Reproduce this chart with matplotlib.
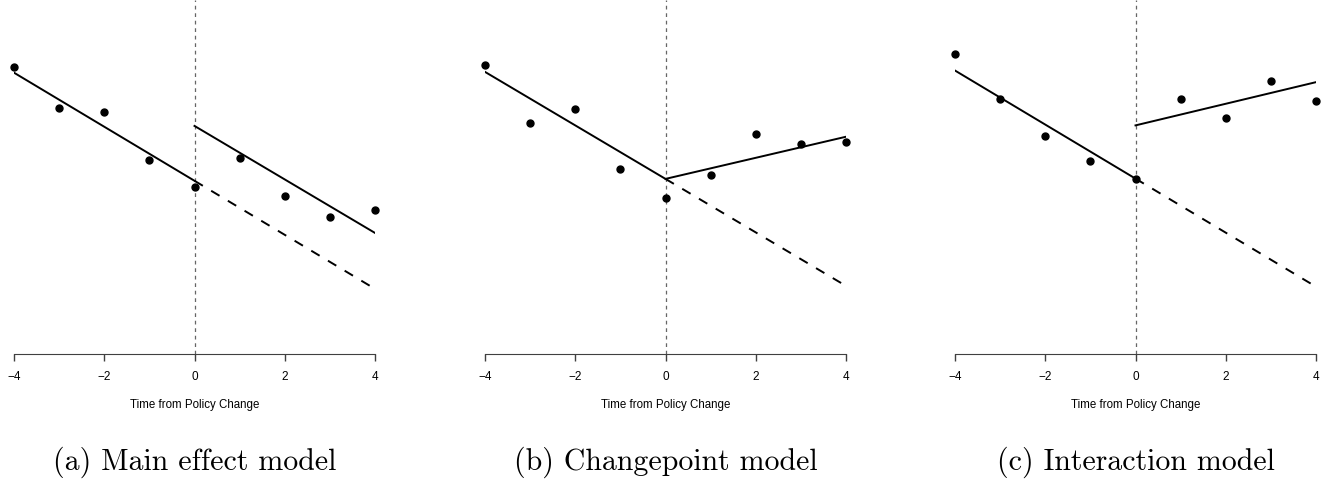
import numpy as np
import matplotlib
matplotlib.use("Agg")
import matplotlib.pyplot as plt

time = [-4, -3, -2, -1, 0, 1, 2, 3, 4]
y_main = [10.62, 9.10, 8.94, 7.19, 6.19, 7.26, 5.83, 5.07, 5.34]
y_change = [10.70, 8.56, 9.05, 6.83, 5.79, 6.63, 8.14, 7.77, 7.83]
y_inter = [11.10, 9.44, 8.07, 7.14, 6.49, 9.42, 8.73, 10.11, 9.38]

# fitted lines: (pre intercept, pre slope, post intercept, post slope)
fit_main = (6.41, -1.00, 8.44, -0.99)
fit_change = (6.48, -0.99, 6.48, 0.39)
fit_inter = (6.49, -1.00, 8.46, 0.40)

captions = ["(a) Main effect model", "(b) Changepoint model", "(c) Interaction model"]
ticks = [-4, -2, 0, 2, 4]

W, H = 1334, 483
fig = plt.figure(figsize=(W / 100, H / 100), dpi=100)

lefts = [14, 485, 955]
width = 361
bottom = 354

panels = [(y_main, fit_main), (y_change, fit_change), (y_inter, fit_inter)]

for i, (ys, fit) in enumerate(panels):
    ax = fig.add_axes([lefts[i] / W, (H - bottom) / H, width / W, bottom / H])
    a0, b0, a1, b1 = fit
    pre_x = np.array([-4, 0])
    post_x = np.array([0, 4])

    ax.axvline(0, color="0.4", lw=0.9, dashes=(3, 3))
    ax.plot(pre_x, a0 + b0 * pre_x, color="black", lw=1.4)
    ax.plot(post_x, a1 + b1 * post_x, color="black", lw=1.4)
    ax.plot(post_x, a0 + b0 * post_x, color="black", lw=1.4, dashes=(5, 5))
    ax.plot(time, ys, "o", color="black", ms=5, clip_on=False)

    ax.set_xlim(-4, 4)
    ax.set_ylim(0, 13.1)
    for s in ["left", "top", "right"]:
        ax.spines[s].set_visible(False)
    ax.spines["bottom"].set_bounds(-4, 4)
    ax.spines["bottom"].set_color("0.25")
    ax.set_yticks([])
    ax.set_xticks(ticks)
    ax.tick_params(axis="x", length=5, width=1, color="0.25", pad=7,
                   labelsize=8.5, labelfontfamily="Liberation Sans")
    ax.set_xlabel("Time from Policy Change", fontsize=8.3,
                  family="Liberation Sans", labelpad=12)

    fig.text((lefts[i] + width / 2) / W, 1 - 462 / H, captions[i],
             ha="center", va="center", fontsize=21.5, family="cmr10")

fig.savefig("out.png", dpi=100)
